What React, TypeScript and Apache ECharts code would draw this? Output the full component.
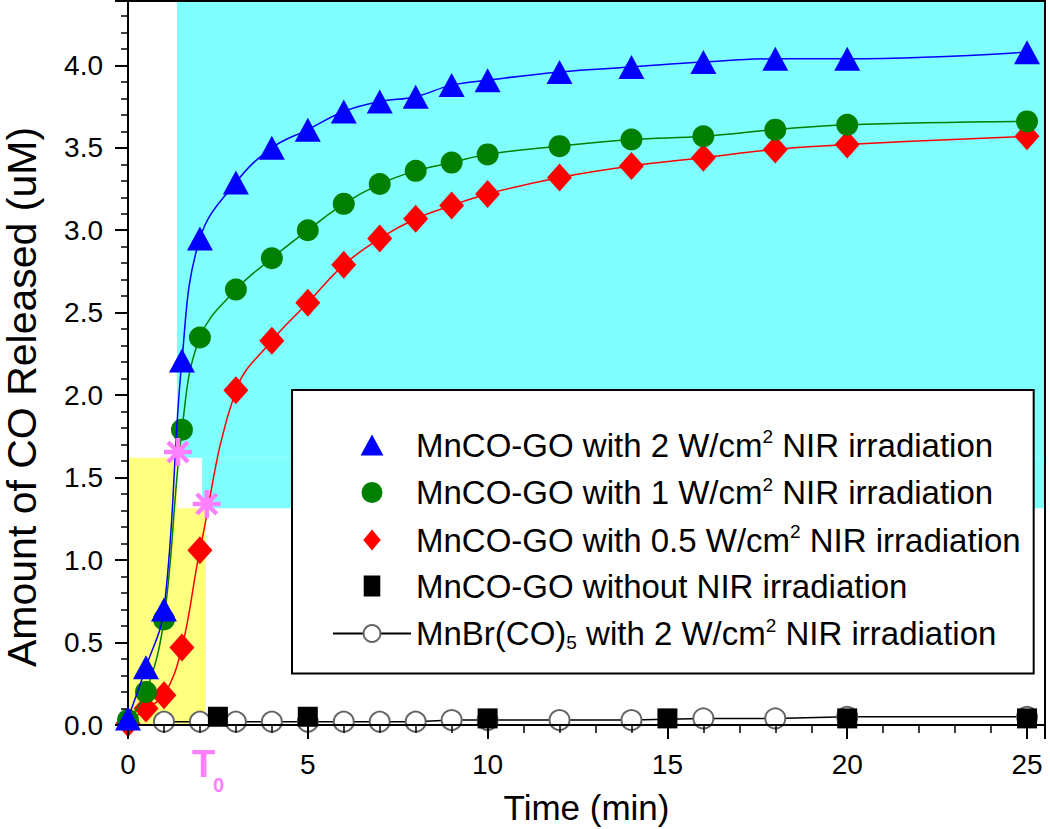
import React, { useEffect, useRef } from 'react';
import * as echarts from 'echarts';

// ---------- data ----------
const times = [0, 0.5, 1, 1.5, 2, 3, 4, 5, 6, 7, 8, 9, 10, 12, 14, 16, 18, 20, 25];
const blue2W = [0.04, 0.35, 0.70, 2.21, 2.95, 3.29, 3.50, 3.61, 3.72, 3.78, 3.81, 3.88, 3.91, 3.96, 3.99, 4.02, 4.04, 4.04, 4.08];
const green1W = [0.03, 0.20, 0.64, 1.79, 2.35, 2.64, 2.83, 3.00, 3.16, 3.28, 3.36, 3.41, 3.46, 3.51, 3.55, 3.57, 3.61, 3.64, 3.66];
const red05W = [0.01, 0.10, 0.18, 0.47, 1.06, 2.03, 2.33, 2.56, 2.79, 2.95, 3.07, 3.15, 3.22, 3.32, 3.39, 3.44, 3.49, 3.52, 3.57];

const darkTimes = [2.5, 5, 10, 15, 20, 25];
const darkVals = [0.05, 0.05, 0.04, 0.04, 0.04, 0.04];

const mnbrTimes = [1, 2, 3, 4, 5, 6, 7, 8, 9, 10, 12, 14, 16, 18, 20, 25];
const mnbrVals = [0.02, 0.02, 0.02, 0.02, 0.02, 0.02, 0.02, 0.02, 0.03, 0.03, 0.03, 0.03, 0.04, 0.04, 0.05, 0.05];

// T0 markers (asterisks) on the 2 W and 0.5 W curves
const t0Times = [1.39, 2.19];
const t0Vals = [1.655, 1.34];
const t0LabelX = 2.06;

const xTicks = ['0', '5', '10', '15', '20', '25'];

const nameBlue = 'MnCO-GO with 2 W/cm2 NIR irradiation';
const nameGreen = 'MnCO-GO with 1 W/cm2 NIR irradiation';
const nameRed = 'MnCO-GO with 0.5 W/cm2 NIR irradiation';
const nameDark = 'MnCO-GO without NIR irradiation';
const nameMnBr = 'MnBr(CO)5 with 2 W/cm2 NIR irradiation';

const richNames: Record<string, string> = {
  [nameBlue]: '{t|MnCO-GO with 2 W/cm}{sup|2}{t| NIR irradiation}',
  [nameGreen]: '{t|MnCO-GO with 1 W/cm}{sup|2}{t| NIR irradiation}',
  [nameRed]: '{t|MnCO-GO with 0.5 W/cm}{sup|2}{t| NIR irradiation}',
  [nameDark]: '{t|MnCO-GO without NIR irradiation}',
  [nameMnBr]: '{t|MnBr(CO)}{sub|5}{t| with 2 W/cm}{sup|2}{t| NIR irradiation}',
};

const X_MAX = 25.5;
const Y_MAX = 4.39;

const FONT = 'Liberation Sans, Arial, sans-serif';
const ASTERISK =
  'path://M0 42H100V58H0Z M42 0H58V100H42Z M8.7 20.0L20.0 8.7L91.3 80.0L80.0 91.3Z M20.0 91.3L8.7 80.0L80.0 8.7L91.3 20.0Z';

const ICON_TRI = 'path://M0 22L12 0L24 22Z';
const ICON_CIRC = 'path://M10 0A10 10 0 1 1 10 20A10 10 0 1 1 10 0Z';
const ICON_DIA = 'path://M10 0L20 12L10 24L0 12Z';
const ICON_RECT = 'path://M0 0H15V19H0Z';

const zip = (xs: number[], ys: number[]) => xs.map((x, i) => [x, ys[i]]);

export default function App() {
  const ref = useRef<HTMLDivElement>(null);

  useEffect(() => {
    const chart = echarts.init(ref.current as HTMLDivElement, null, { renderer: 'svg' });

    const option: any = {
      animation: false,
      backgroundColor: '#ffffff',
      textStyle: { fontFamily: FONT, color: '#000' },
      grid: {
        left: 128,
        right: 5,
        top: 1,
        bottom: 104,
        containLabel: false,
        outerBoundsMode: 'none',
      },
      legend: {
        orient: 'vertical',
        left: 292,
        top: 390,
        selectedMode: false,
        backgroundColor: '#ffffff',
        borderColor: '#000',
        borderWidth: 2,
        borderRadius: 0,
        padding: [37, 13, 22, 40],
        itemGap: 13,
        itemWidth: 78,
        itemHeight: 21,
        symbolKeepAspect: true,
        z: 10,
        data: [
          { name: nameBlue, icon: ICON_TRI },
          { name: nameGreen, icon: ICON_CIRC },
          { name: nameRed, icon: ICON_DIA },
          { name: nameDark, icon: ICON_RECT },
          { name: nameMnBr },
        ],
        formatter: (n: string) => richNames[n] || n,
        textStyle: {
          fontFamily: FONT,
          color: '#000',
          fontSize: 33,
          rich: {
            t: { fontFamily: FONT, fontSize: 33, lineHeight: 36, color: '#000' },
            sup: { fontFamily: FONT, fontSize: 19, lineHeight: 19, verticalAlign: 'top', color: '#000' },
            sub: { fontFamily: FONT, fontSize: 19, lineHeight: 19, verticalAlign: 'bottom', color: '#000' },
          },
        },
      },
      xAxis: [
        {
          type: 'value',
          min: 0,
          max: X_MAX,
          interval: 5,
          z: 5,
          name: 'Time (min)',
          nameLocation: 'middle',
          nameGap: 65,
          nameTextStyle: { fontFamily: FONT, fontSize: 35, color: '#000' },
          axisLine: { onZero: false, lineStyle: { color: '#000', width: 2 } },
          axisTick: { show: true, length: 14, lineStyle: { color: '#000', width: 2 } },
          minorTick: { show: true, splitNumber: 5, length: 8, lineStyle: { color: '#000', width: 1.5 } },
          splitLine: { show: false },
          axisLabel: {
            fontFamily: FONT,
            fontSize: 28,
            color: '#000',
            margin: 25,
            showMaxLabel: false,
            formatter: (v: number) => {
              const s = String(v);
              return xTicks.indexOf(s) >= 0 ? s : '';
            },
          },
        },
        {
          type: 'value',
          min: 0,
          max: X_MAX,
          position: 'top',
          z: 5,
          axisLine: { show: true, onZero: false, lineStyle: { color: '#000', width: 2 } },
          axisTick: { show: false },
          axisLabel: { show: false },
          splitLine: { show: false },
        },
      ],
      yAxis: [
        {
          type: 'value',
          min: 0,
          max: Y_MAX,
          interval: 0.5,
          z: 5,
          name: 'Amount of CO Released (uM)',
          nameLocation: 'middle',
          nameRotate: 90,
          nameGap: 86,
          nameTextStyle: { fontFamily: FONT, fontSize: 41, color: '#000', padding: [0, 68, 0, 0] },
          axisLine: { onZero: false, lineStyle: { color: '#000', width: 2 } },
          axisTick: { show: true, length: 13, lineStyle: { color: '#000', width: 2 } },
          minorTick: { show: true, splitNumber: 5, length: 7, lineStyle: { color: '#000', width: 1.5 } },
          splitLine: { show: false },
          axisLabel: {
            fontFamily: FONT,
            fontSize: 28,
            color: '#000',
            margin: 25,
            showMaxLabel: false,
            formatter: (v: number) => (Math.abs(v * 2 - Math.round(v * 2)) < 1e-6 ? v.toFixed(1) : ''),
          },
        },
        {
          type: 'value',
          min: 0,
          max: Y_MAX,
          position: 'right',
          z: 5,
          axisLine: { show: true, onZero: false, lineStyle: { color: '#000', width: 2 } },
          axisTick: { show: false },
          axisLabel: { show: false },
          splitLine: { show: false },
        },
      ],
      series: [
        {
          name: 'regions',
          type: 'line',
          data: [],
          silent: true,
          z: 0,
          markArea: {
            silent: true,
            label: { show: false },
            data: [
              [
                { xAxis: 1.36, yAxis: 1.62, itemStyle: { color: '#80FFFF', opacity: 1 } },
                { xAxis: X_MAX, yAxis: Y_MAX },
              ],
              [
                { xAxis: 2.06, yAxis: 1.315, itemStyle: { color: '#80FFFF', opacity: 1 } },
                { xAxis: X_MAX, yAxis: 1.62 },
              ],
              [
                { xAxis: 0, yAxis: 0, itemStyle: { color: '#FFFF80', opacity: 1 } },
                { xAxis: 1.36, yAxis: 1.62 },
              ],
              [
                { xAxis: 1.36, yAxis: 0, itemStyle: { color: '#FFFF80', opacity: 1 } },
                { xAxis: 2.17, yAxis: 1.315 },
              ],
            ],
          },
        },
        {
          name: nameMnBr,
          type: 'line',
          data: zip(mnbrTimes, mnbrVals),
          symbol: 'emptyCircle',
          symbolSize: 20,
          z: 2,
          lineStyle: { color: '#000', width: 1.5 },
          itemStyle: { color: '#666666', borderWidth: 1.5 },
        },
        {
          name: nameDark,
          type: 'scatter',
          data: zip(darkTimes, darkVals),
          symbol: 'rect',
          symbolSize: 20,
          z: 3,
          itemStyle: { color: '#000', opacity: 1 },
        },
        {
          name: nameRed,
          type: 'line',
          data: zip(times, red05W),
          smooth: 0.4,
          symbol: 'diamond',
          symbolSize: [25, 28],
          z: 3,
          lineStyle: { color: '#FF0000', width: 1.5 },
          itemStyle: { color: '#FF0000' },
        },
        {
          name: nameGreen,
          type: 'line',
          data: zip(times, green1W),
          smooth: 0.4,
          symbol: 'circle',
          symbolSize: 22,
          z: 4,
          lineStyle: { color: '#007F00', width: 1.5 },
          itemStyle: { color: '#007F00' },
        },
        {
          name: nameBlue,
          type: 'line',
          data: zip(times, blue2W),
          smooth: 0.4,
          symbol: 'triangle',
          symbolSize: [26, 24],
          z: 5,
          lineStyle: { color: '#0000FF', width: 1.5 },
          itemStyle: { color: '#0000FF' },
        },
        {
          name: 'T0 markers',
          type: 'scatter',
          data: zip(t0Times, t0Vals),
          symbol: ASTERISK,
          symbolSize: 28,
          z: 6,
          silent: true,
          itemStyle: { color: '#FF80FF', opacity: 1 },
        },
      ],
    };

    chart.setOption(option);

    const p = chart.convertToPixel({ xAxisIndex: 0, yAxisIndex: 0 }, [t0LabelX, 0]) as number[];
    chart.setOption({
      graphic: [
        {
          type: 'text',
          x: p[0] - 10,
          y: p[1] + 20,
          z: 20,
          style: {
            text: 'T',
            fontFamily: FONT,
            fontSize: 38,
            fontWeight: 'bold',
            fill: '#FF80FF',
            textVerticalAlign: 'top',
          },
        },
        {
          type: 'text',
          x: p[0] + 11,
          y: p[1] + 50,
          z: 20,
          style: {
            text: '0',
            fontFamily: FONT,
            fontSize: 20,
            fontWeight: 'bold',
            fill: '#FF80FF',
            textVerticalAlign: 'top',
          },
        },
      ],
    });

    return () => chart.dispose();
  }, []);

  return (
    <div
      ref={ref}
      style={{ position: 'absolute', left: 0, top: 0, width: 1050, height: 829 }}
    />
  );
}
